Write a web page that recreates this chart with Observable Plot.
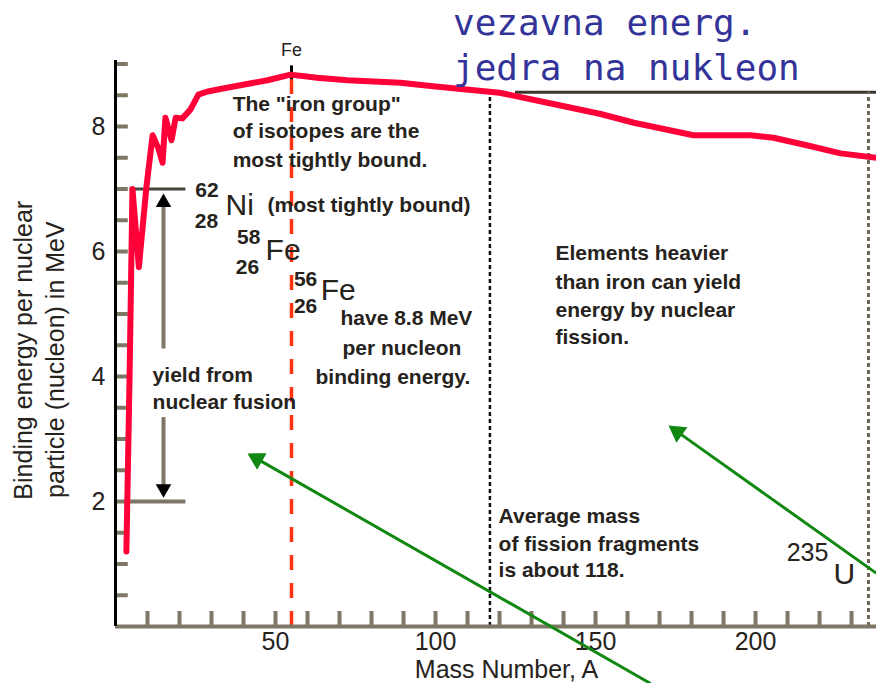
<!DOCTYPE html>
<html><head><meta charset="utf-8">
<script src="https://cdn.jsdelivr.net/npm/d3@7"></script>
<script src="https://cdn.jsdelivr.net/npm/@observablehq/plot@0.6"></script>
<style>
html,body{margin:0;padding:0;background:#fff;}
#wrap{position:relative;width:876px;height:683px;overflow:hidden;background:#fff;}
#chart{position:absolute;left:0;top:0;}
#title{position:absolute;left:453px;top:0;font-family:"DejaVu Sans Mono",monospace;font-size:36px;line-height:45px;color:#333399;white-space:pre;}
</style></head><body>
<div id="wrap"><div id="chart"></div><div id="title">vezavna energ.
jedra na nukleon</div></div>
<script>
// ---- data: binding energy per nucleon curve ----
const massNumber    = [3.4, 4.4, 5.3, 7.3, 9.7, 11.6, 13.4, 14.7, 15.6, 17.5, 18.8, 20.9, 23.4, 25.9, 28.8, 32.8, 36.9, 47.5, 54.7, 63, 72.5, 89, 100, 120, 135, 151.6, 162, 180.6, 198.4, 205.6, 216, 226.6, 237.8];
const bindingEnergy = [1.2, 4.0, 7.0, 5.75, 7.05, 7.86, 7.65, 7.42, 8.14, 7.78, 8.14, 8.13, 8.27, 8.51, 8.56, 8.6, 8.64, 8.74, 8.83, 8.78, 8.74, 8.7, 8.64, 8.54, 8.38, 8.2, 8.06, 7.86, 7.86, 7.82, 7.7, 7.57, 7.5];

// ---- axes ----
const xTicks = d3.range(10, 240, 10);
const xTickLabels = [50, 100, 150, 200];
const yMinorTicks = d3.range(0.5, 9.01, 0.5);
const yTickLabels = [2, 4, 6, 8];
const xLabel = "Mass Number, A";
const yLabelLines = ["Binding energy per nuclear", "particle (nucleon) in MeV"];
const yLabelX = [-28.5, -18.5];
const yLabelY = [4.42, 4.27];

// ---- reference lines ----
const feA = 55;
const fissionA = 117;
const uraniumA = 235.3;
const topLineY = 8.55;
const nickelY = 7.0;
const fusionLowY = 2.0;

// ---- annotation texts ----
const noteText = ['The "iron group"', 'of isotopes are the', 'most tightly bound.', '(most tightly bound)',
  'have 8.8 MeV', 'per nucleon', 'binding energy.',
  'Elements heavier', 'than iron can yield', 'energy by nuclear', 'fission.',
  'yield from', 'nuclear fusion',
  'Average mass', 'of fission fragments', 'is about 118.'];
const noteX = [36.6, 36.6, 36.6, 47.5, 70.3, 70.9, 62.5, 137.5, 137.5, 137.5, 137.5, 11.6, 11.6, 119.7, 119.7, 119.7];
const noteY = [8.35, 7.92, 7.46, 6.74, 4.93, 4.45, 3.98, 5.97, 5.50, 5.06, 4.62, 4.02, 3.58, 1.76, 1.31, 0.90];

const isoNumText = ["62", "28", "58", "26", "56", "26"];
const isoNumX = [28.6, 28.4, 41.6, 41.25, 59.4, 59.4];
const isoNumY = [6.98, 6.48, 6.22, 5.74, 5.55, 5.12];
const symText = ["Ni", "Fe", "Fe", "U"];
const symX = [34.4, 46.9, 64.1, 224.4];
const symY = [6.74, 6.02, 5.38, 0.83];
const uNum = "235", uNumX = 216.25, uNumY = 1.18;
const feTop = "Fe", feTopY = 9.22;

// ---- arrows (tail -> tip) ----
const greenX1 = [167.2, 237.8], greenY1 = [-0.912, 0.85];
const greenX2 = [41.25, 172.8], greenY2 = [2.77, 3.216];
const grayX = [15, 15], grayY1 = [4.45, 3.35], grayY2 = [6.93, 2.06];

// ---- layout ----
const W = 876, H = 683, mL = 115, mR = 0, mT = 60, mB = 57;
const xDomain = [0, 237.8], yDomain = [0, 9.056];
const kx = (W - mL - mR) / (xDomain[1] - xDomain[0]);
const ky = (H - mT - mB) / (yDomain[1] - yDomain[0]);

function arrowParts(x1, y1, x2, y2, a) {
  const shafts = [], heads = [];
  x1.forEach((_, i) => {
    const dxp = (x2[i] - x1[i]) * kx, dyp = -(y2[i] - y1[i]) * ky;
    const len = Math.hypot(dxp, dyp), ux = dxp / len, uy = dyp / len;
    const cx = x2[i] - ux * 2 * a / kx, cy = y2[i] + uy * 2 * a / ky;
    shafts.push({x1: x1[i], y1: y1[i], x2: cx, y2: cy});
    heads.push({x: cx, y: cy, rot: Math.atan2(ux, -uy) * 180 / Math.PI});
  });
  return {shafts, heads};
}
const green = arrowParts(greenX1, greenY1, greenX2, greenY2, 5.5);
const gray = arrowParts(grayX, grayY1, grayX, grayY2, 4.5);
const rOf = a => Math.sqrt(3 * Math.sqrt(3) * a * a / Math.PI);

const curve = massNumber.map((a, i) => ({a, e: bindingEnergy[i]}));
const notes = noteText.map((t, i) => ({t, x: noteX[i], y: noteY[i]}));
const isoNums = isoNumText.map((t, i) => ({t, x: isoNumX[i], y: isoNumY[i]}));
const syms = symText.map((t, i) => ({t, x: symX[i], y: symY[i]}));
const yLab = yLabelLines.map((t, i) => ({t, x: yLabelX[i], y: yLabelY[i]}));

const ink = "#26221c", grey = "#7f7765";
const font = "'Liberation Sans', Arial, Helvetica, sans-serif";

const plot = Plot.plot({
  width: W, height: H,
  marginLeft: mL, marginRight: mR, marginTop: mT, marginBottom: mB,
  x: {domain: xDomain, axis: null},
  y: {domain: yDomain, axis: null},
  style: {background: "white", fontFamily: font, overflow: "visible"},
  marks: [
    Plot.ruleY([topLineY], {x1: 125, x2: xDomain[1], stroke: "#3b372e", strokeWidth: 3}),
    Plot.ruleX([fissionA], {y1: 0, y2: topLineY, stroke: "#111", strokeWidth: 2.5, strokeDasharray: "4,3"}),
    Plot.ruleX([uraniumA], {y1: 0, y2: topLineY, stroke: "#6e6656", strokeWidth: 3, strokeDasharray: "4,3"}),
    Plot.ruleX([feA], {y1: 0, y2: 8.8, stroke: "#ff3311", strokeWidth: 3.5, strokeDasharray: "15,13"}),
    Plot.ruleX([feA], {y1: 8.75, y2: 8.97, stroke: "black", strokeWidth: 3}),
    // axes
    Plot.ruleY([0], {x1: 0, x2: xDomain[1], stroke: grey, strokeWidth: 4}),
    Plot.ruleX(xTicks, {y1: 0, y2: 0.24, stroke: grey, strokeWidth: 4}),
    Plot.ruleY(yMinorTicks, {x1: 0, x2: 4, stroke: grey, strokeWidth: 4}),
    Plot.ruleX([0], {y1: 0, y2: yDomain[1], stroke: "black", strokeWidth: 3}),
    Plot.text(xTickLabels, {x: d => d, y: 0, dy: 15, text: d => String(d), fontSize: 25, fill: ink}),
    Plot.text(yTickLabels, {x: 0, y: d => d, dx: -10, textAnchor: "end", text: d => String(d), fontSize: 25, fill: ink}),
    Plot.text([xLabel], {x: 122.2, y: -0.69, text: d => d, fontSize: 25, fill: ink}),
    Plot.text(yLab, {x: "x", y: "y", text: "t", rotate: -90, fontSize: 25, fill: ink}),
    // fusion bracket
    Plot.ruleY([nickelY], {x1: 4.5, x2: 22, stroke: "#4a463b", strokeWidth: 3}),
    Plot.ruleY([fusionLowY], {x1: 4.5, x2: 22, stroke: grey, strokeWidth: 4}),
    Plot.link(gray.shafts, {x1: "x1", y1: "y1", x2: "x2", y2: "y2", stroke: grey, strokeWidth: 4}),
    Plot.dot(gray.heads, {x: "x", y: "y", rotate: "rot", symbol: "triangle", r: rOf(4.5), fill: "black", stroke: "none"}),
    // curve
    Plot.line(curve, {x: "a", y: "e", stroke: "#ff0038", strokeWidth: 6, strokeLinejoin: "round"}),
    // texts
    Plot.text(notes, {x: "x", y: "y", text: "t", textAnchor: "start", fontSize: 21, fontWeight: "bold", fill: ink}),
    Plot.text(isoNums, {x: "x", y: "y", text: "t", fontSize: 21, fontWeight: "bold", fill: ink}),
    Plot.text([uNum], {x: uNumX, y: uNumY, text: d => d, fontSize: 25, fill: ink}),
    Plot.text(syms, {x: "x", y: "y", text: "t", textAnchor: "start", fontSize: 30, fill: ink}),
    Plot.text([feTop], {x: feA, y: feTopY, text: d => d, fontSize: 18, fill: ink}),
    // green arrows
    Plot.link(green.shafts, {x1: "x1", y1: "y1", x2: "x2", y2: "y2", stroke: "#118811", strokeWidth: 3}),
    Plot.dot(green.heads, {x: "x", y: "y", rotate: "rot", symbol: "triangle", r: rOf(5.5), fill: "#118811", stroke: "none"})
  ]
});
document.getElementById("chart").appendChild(plot);
</script>
</body></html>
